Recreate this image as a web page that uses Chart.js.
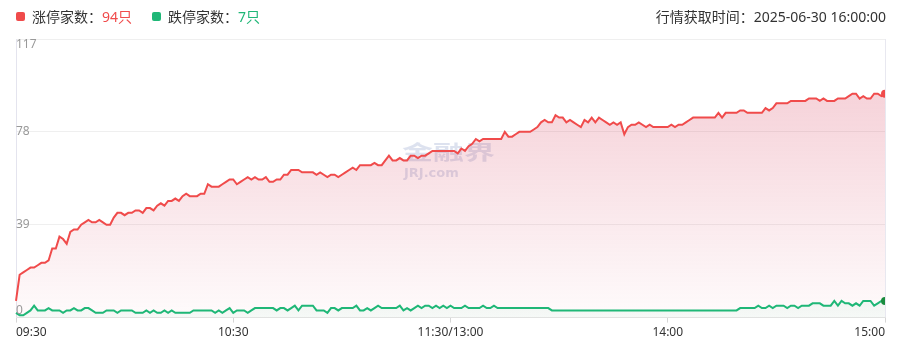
<!DOCTYPE html>
<html lang="zh-CN">
<head>
<meta charset="UTF-8">
<title>涨跌停家数</title>
<script src="https://cdn.jsdelivr.net/npm/chart.js"></script>
<style>
  body { margin: 0; background: #fff; }
  #wrap { position: relative; width: 898px; height: 358px; font-family: "Noto Sans", "Noto Sans CJK SC", sans-serif; color: #333; }
  #chart { position: absolute; left: 0; top: 0; }
  .hd { position: absolute; top: 7px; font-size: 14px; line-height: 20px; white-space: nowrap; }
  .sq { position: absolute; top: 12px; width: 9px; height: 9px; border-radius: 2px; }
</style>
</head>
<body>
<div id="wrap">
  <canvas id="chart" width="898" height="358"></canvas>
  <span class="sq" style="left:16px;background:#f04b4b"></span>
  <span class="hd" style="left:32px">涨停家数：<span id="ztNum" style="color:#f04b4b"></span></span>
  <span class="sq" style="left:152px;background:#1fb777"></span>
  <span class="hd" style="left:168px">跌停家数：<span id="dtNum" style="color:#1fb777"></span></span>
  <span class="hd" style="right:12px">行情获取时间：2025-06-30 16:00:00</span>
</div>

<script>
  // minutes since 09:30 (11:30 and 13:00 share index 120)
  const timeTicks = [0, 60, 120, 180, 240];
  const timeLabels = ['09:30', '10:30', '11:30/13:00', '14:00', '15:00'];
  const yTicks = [0, 39, 78, 117];

  // 涨停家数, one value per minute
  const ztCount = [
    7, 18, 19, 20, 21, 21, 22, 23, 23, 24,
    29, 29, 34, 33, 31, 36, 37, 37, 39, 40,
    41, 40, 40, 41, 40, 39, 39, 42, 44, 44,
    43, 44, 44, 45, 45, 44, 46, 46, 45, 47,
    48, 47, 49, 49, 50, 49, 51, 52, 51, 51,
    51, 52, 52, 56, 55, 55, 55, 56, 57, 58,
    58, 56, 57, 58, 59, 58, 59, 58, 58, 59,
    57, 57, 58, 58, 60, 60, 62, 62, 62, 61,
    61, 61, 61, 60, 61, 60, 59, 60, 60, 59,
    60, 61, 62, 63, 62, 64, 64, 64, 64, 65,
    64, 64, 66, 68, 66, 66, 67, 66, 66, 68,
    68, 67, 68, 68, 69, 70, 70, 70, 70, 70,
    70, 70, 69, 71, 70, 72, 73, 75, 74, 75,
    75, 75, 75, 75, 75, 78, 76, 76, 77, 78,
    78, 78, 78, 79, 80, 82, 83, 82, 82, 85,
    84, 84, 82, 83, 82, 81, 80, 83, 82, 84,
    82, 84, 83, 82, 81, 82, 81, 82, 77, 80,
    81, 81, 82, 81, 80, 81, 80, 80, 80, 80,
    80, 81, 80, 81, 81, 82, 83, 84, 84, 84,
    84, 84, 84, 84, 86, 84, 86, 86, 86, 86,
    87, 87, 86, 86, 86, 86, 86, 88, 87, 88,
    90, 90, 90, 90, 91, 91, 91, 91, 91, 92,
    92, 92, 91, 92, 91, 91, 91, 92, 92, 92,
    93, 94, 94, 92, 93, 92, 92, 94, 94, 93,
    94
  ];

  // 跌停家数, one value per minute
  const dtCount = [
    2, 1, 1, 2, 3, 5, 3, 3, 3, 4,
    3, 3, 3, 2, 3, 3, 4, 3, 3, 4,
    4, 3, 2, 2, 2, 3, 3, 3, 2, 3,
    3, 3, 3, 2, 2, 2, 3, 2, 3, 2,
    2, 3, 2, 3, 2, 2, 2, 2, 2, 3,
    3, 3, 3, 3, 3, 2, 3, 2, 3, 4,
    2, 3, 3, 3, 2, 3, 4, 4, 4, 4,
    4, 4, 3, 4, 4, 3, 4, 5, 3, 5,
    5, 5, 5, 3, 3, 3, 2, 4, 4, 3,
    4, 4, 4, 4, 5, 3, 3, 4, 3, 4,
    5, 4, 4, 4, 4, 4, 5, 3, 4, 3,
    4, 5, 4, 5, 5, 4, 5, 4, 5, 4,
    5, 4, 4, 4, 5, 4, 4, 4, 4, 5,
    4, 4, 5, 4, 4, 4, 4, 4, 4, 4,
    4, 4, 4, 4, 4, 4, 4, 4, 3, 3,
    3, 3, 3, 3, 3, 3, 3, 3, 3, 3,
    3, 3, 3, 3, 3, 3, 3, 3, 3, 3,
    3, 3, 3, 3, 3, 3, 3, 3, 3, 3,
    3, 3, 3, 3, 3, 3, 3, 3, 3, 3,
    3, 3, 3, 3, 3, 3, 3, 3, 3, 3,
    4, 4, 4, 4, 4, 5, 4, 4, 5, 4,
    5, 5, 5, 4, 5, 5, 4, 5, 5, 5,
    6, 6, 6, 5, 5, 5, 7, 5, 7, 6,
    6, 5, 6, 5, 7, 7, 7, 5, 6, 7,
    7
  ];

  const red = '#f04b4b';
  const green = '#1fb777';

  document.getElementById('ztNum').textContent = ztCount[ztCount.length - 1] + '只';
  document.getElementById('dtNum').textContent = dtCount[dtCount.length - 1] + '只';

  const fillGrad = (rgb, a0, a1) => ctx => {
    const area = ctx.chart.chartArea;
    if (!area) return 'transparent';
    const g = ctx.chart.ctx.createLinearGradient(0, area.top, 0, area.bottom);
    g.addColorStop(0, `rgba(${rgb},${a0})`);
    g.addColorStop(1, `rgba(${rgb},${a1})`);
    return g;
  };

  // y labels sit inside the plot; watermark behind the lines
  const overlay = {
    id: 'overlay',
    beforeDatasetsDraw(chart) {
      const c = chart.ctx;
      c.save();
      c.fillStyle = 'rgba(150,165,205,0.32)';
      c.font = 'bold 31px "Noto Sans CJK SC"';
      c.textBaseline = 'alphabetic';
      c.translate(402, 160);
      c.scale(1, 0.66);
      c.fillText('金融界', 0, 0);
      c.restore();
      c.save();
      c.fillStyle = 'rgba(150,165,205,0.34)';
      c.font = 'bold 13px "DejaVu Sans"';
      c.fillText('JRJ.com', 404, 177);
      c.restore();
    },
    afterDatasetsDraw(chart) {
      const c = chart.ctx;
      const y = chart.scales.y;
      const left = chart.chartArea.left;
      c.save();
      c.font = '12px "Noto Sans", sans-serif';
      c.fillStyle = '#999';
      c.textAlign = 'left';
      c.textBaseline = 'alphabetic';
      yTicks.forEach((v, i) => {
        const py = y.getPixelForValue(v);
        let off = 3;
        if (i === 0) off = -3.5;
        if (i === yTicks.length - 1) off = 9;
        c.fillText(String(v), left, py + off);
      });
      c.restore();
    }
  };

  const lastIdx = ztCount.length - 1;

  new Chart(document.getElementById('chart'), {
    type: 'line',
    data: {
      datasets: [
        {
          label: '涨停家数',
          data: ztCount.map((v, i) => ({ x: i, y: v })),
          borderColor: red,
          borderWidth: 2,
          backgroundColor: fillGrad('215,60,90', 0.28, 0.02),
          fill: 'origin',
          tension: 0,
          pointRadius: ctx => ctx.dataIndex === lastIdx ? 4 : 0,
          pointBackgroundColor: red,
          pointBorderWidth: 0,
          clip: { left: 2, top: 5, right: 0, bottom: 2 },
          order: 2
        },
        {
          label: '跌停家数',
          data: dtCount.map((v, i) => ({ x: i, y: v })),
          borderColor: green,
          borderWidth: 2,
          backgroundColor: fillGrad('31,183,119', 0.22, 0.04),
          fill: 'origin',
          tension: 0,
          pointRadius: ctx => ctx.dataIndex === lastIdx ? 4 : 0,
          pointBackgroundColor: '#1a8c3e',
          pointBorderWidth: 0,
          clip: { left: 2, top: 5, right: 0, bottom: 2 },
          order: 1
        }
      ]
    },
    options: {
      responsive: false,
      animation: false,
      events: [],
      layout: { padding: { left: 16, right: 13, top: 39, bottom: 15 } },
      plugins: { legend: { display: false }, tooltip: { enabled: false } },
      scales: {
        x: {
          type: 'linear',
          min: 0,
          max: 240,
          afterBuildTicks: s => { s.ticks = timeTicks.map(v => ({ value: v })); },
          ticks: {
            autoSkip: false,
            maxRotation: 0,
            align: 'inner',
            color: '#333',
            font: { family: '"Noto Sans", sans-serif', size: 12 },
            padding: 3,
            callback: v => timeLabels[timeTicks.indexOf(v)]
          },
          grid: {
            color: ctx => (ctx.tick && (ctx.tick.value === 0 || ctx.tick.value === 240)) ? '#e8e8f0' : 'rgba(0,0,0,0)',
            tickColor: '#d6d6d6',
            tickLength: 5
          },
          border: { display: true, color: '#e2e2e2' }
        },
        y: {
          min: 0,
          max: 117,
          afterBuildTicks: s => { s.ticks = yTicks.map(v => ({ value: v })); },
          ticks: { display: false },
          grid: { color: '#efefef', drawTicks: false },
          border: { display: true, color: '#e4e4ee' }
        }
      }
    },
    plugins: [overlay]
  });
</script>
</body>
</html>
